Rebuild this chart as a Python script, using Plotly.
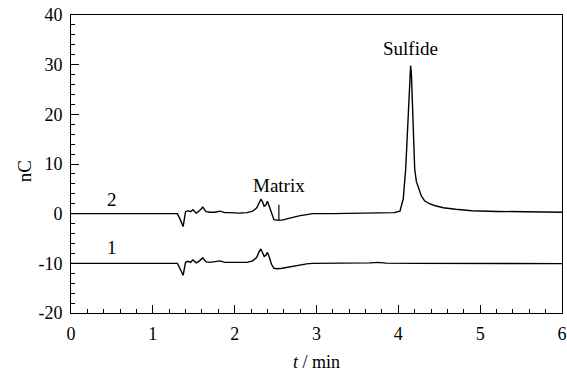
import plotly.graph_objects as go

# ---- data ----
t2 = [0, 1.30, 1.33, 1.37, 1.40, 1.43, 1.46, 1.49, 1.53, 1.57, 1.61, 1.65, 1.70, 1.76,
      1.82, 1.88, 1.95, 2.05, 2.15, 2.22, 2.27, 2.30, 2.32, 2.34, 2.36, 2.38, 2.40, 2.42,
      2.45, 2.48, 2.52, 2.58, 2.65, 2.72, 2.80, 2.88, 2.95, 3.2, 3.5, 3.8, 3.95, 4.02,
      4.06, 4.09, 4.12, 4.14, 4.15, 4.16, 4.17, 4.18, 4.20, 4.22, 4.25, 4.28, 4.32, 4.38,
      4.45, 4.55, 4.7, 4.9, 5.2, 5.6, 6.0]
y2 = [0, 0, -1.0, -2.6, 0.4, 0.6, 0.4, 0.8, 0.1, 0.6, 1.3, 0.4, 0.3, 0.3,
      0.5, 0.2, 0.2, 0.1, 0.2, 0.5, 1.2, 2.4, 2.9, 2.4, 1.5, 1.7, 2.5, 1.6,
      0.0, -1.2, -1.3, -1.3, -1.0, -0.7, -0.4, -0.2, 0, 0, 0.05, 0.1, 0.2, 0.5,
      3.0, 9.0, 20.0, 27.0, 29.8, 28.0, 24.0, 17.0, 9.0, 6.5, 4.8, 3.6, 2.6, 2.0,
      1.6, 1.2, 0.9, 0.6, 0.45, 0.35, 0.3]

t1 = [0, 1.30, 1.33, 1.37, 1.40, 1.43, 1.46, 1.49, 1.53, 1.57, 1.61, 1.65, 1.70, 1.76,
      1.82, 1.88, 1.95, 2.05, 2.15, 2.22, 2.27, 2.30, 2.32, 2.34, 2.36, 2.38, 2.40, 2.42,
      2.45, 2.48, 2.52, 2.58, 2.65, 2.72, 2.80, 2.88, 2.95, 3.3, 3.65, 3.75, 3.85, 4.2,
      5.0, 6.0]
y1 = [-10, -10, -11, -12.4, -9.8, -9.6, -9.8, -9.3, -9.9, -9.5, -8.9, -9.7, -9.8, -9.7,
      -9.5, -9.8, -9.8, -9.9, -9.8, -9.5, -8.8, -7.6, -7.1, -7.8, -8.6, -8.4, -7.8, -8.6,
      -10.2, -11.0, -11.1, -11.0, -10.8, -10.5, -10.3, -10.1, -10.0, -10.0, -9.9, -9.8,
      -9.95, -10.0, -10.0, -10.05]

matrix_t = [2.54, 2.54]
matrix_y = [-1.4, 1.8]

labels = ["2", "1", "Matrix", "Sulfide"]
label_x = [0.50, 0.50, 2.546, 4.15]
label_y = [2.8, -6.8, 5.7, 33.2]

y_tickvals = [-20, -10, 0, 10, 20, 30, 40]
y_ticktext = ["-20", "-10", "0", "10", "20", "30", "40"]
x_tickvals = [0, 1, 2, 3, 4, 5, 6]
x_ticktext = ["0", "1", "2", "3", "4", "5", "6"]

x_title = "<i>t</i> / min"
y_title = "nC"

FONT = "Liberation Serif"

fig = go.Figure()
line = dict(color="black", width=1.4)
fig.add_trace(go.Scatter(x=t2, y=y2, mode="lines", line=line, hoverinfo="skip"))
fig.add_trace(go.Scatter(x=t1, y=y1, mode="lines", line=line, hoverinfo="skip"))
fig.add_trace(go.Scatter(x=matrix_t, y=matrix_y, mode="lines",
                         line=dict(color="black", width=1.2), hoverinfo="skip"))

for txt, lx, ly in zip(labels, label_x, label_y):
    fig.add_annotation(x=lx, y=ly, text=txt, showarrow=False,
                       xanchor="center", yanchor="middle",
                       font=dict(family=FONT, size=19, color="black"))

# axis titles placed as paper annotations
fig.add_annotation(x=0.5, y=-0.165, xref="paper", yref="paper", text=x_title,
                   showarrow=False, xanchor="center", yanchor="middle",
                   font=dict(family=FONT, size=18, color="black"))
fig.add_annotation(x=-0.094, y=0.475, xref="paper", yref="paper", text=y_title,
                   showarrow=False, textangle=-90, xanchor="center", yanchor="middle",
                   font=dict(family=FONT, size=19, color="black"))

axis_common = dict(
    showgrid=False, zeroline=False, showline=True, linecolor="black", linewidth=1,
    mirror=True, ticks="inside", tickcolor="black", tickwidth=1, ticklen=8,
    tickfont=dict(family=FONT, size=18, color="black"), automargin=False,
)

fig.update_xaxes(range=[0, 6], tickmode="array", tickvals=x_tickvals, ticktext=x_ticktext,
                 ticklabelstandoff=4,
                 minor=dict(ticks="inside", dtick=0.2, tick0=0, ticklen=4, tickcolor="black"),
                 **axis_common)
fig.update_yaxes(range=[-20, 40], tickmode="array", tickvals=y_tickvals, ticktext=y_ticktext,
                 ticklabelstandoff=4,
                 minor=dict(ticks="inside", dtick=2, tick0=0, ticklen=4, tickcolor="black"),
                 **axis_common)

fig.update_layout(
    width=567, height=376,
    margin=dict(l=71, r=5, t=15, b=63),
    plot_bgcolor="white", paper_bgcolor="white",
    showlegend=False,
)

fig.write_html("out.html", config={"displayModeBar": False},
               post_script="document.body.style.margin='0';document.body.style.overflow='hidden';")
